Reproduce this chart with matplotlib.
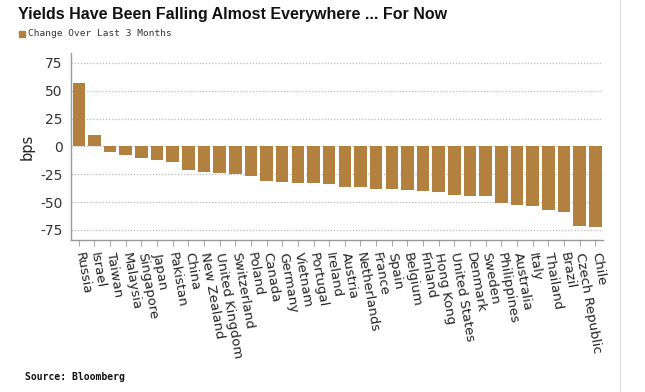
import matplotlib
matplotlib.use("Agg")
import matplotlib.pyplot as plt
import numpy as np

# -----------------------------
# Data (bps change over last 3 months)
# -----------------------------
countries = [
    "Russia", "Israel", "Taiwan", "Malaysia", "Singapore", "Japan", "Pakistan",
    "China", "New Zealand", "United Kingdom", "Switzerland", "Poland", "Canada",
    "Germany", "Vietnam", "Portugal", "Ireland", "Austria", "Netherlands",
    "France", "Spain", "Belgium", "Finland", "Hong Kong", "United States",
    "Denmark", "Sweden", "Philippines", "Australia", "Italy", "Thailand",
    "Brazil", "Czech Republic", "Chile",
]
change_bps = [
    57.4, 10.4, -4.8, -7.7, -10.7, -11.9, -14.3,
    -20.8, -22.6, -23.8, -24.7, -26.5, -31.0,
    -31.8, -32.7, -33.3, -33.5, -36.6, -36.6,
    -38.7, -38.7, -39.6, -39.8, -40.8, -43.5,
    -44.4, -44.6, -50.6, -52.7, -53.9, -56.8,
    -59.2, -71.4, -72.0,
]
y_ticks = [-75, -50, -25, 0, 25, 50, 75]

bar_color = "#B3813F"
plt.rcParams["axes.unicode_minus"] = False

# -----------------------------
# Figure
# -----------------------------
fig = plt.figure(figsize=(6.45, 3.92), dpi=100)
ax = fig.add_axes([0.110, 0.388, 0.825, 0.477])

x = np.arange(len(countries))
ax.bar(x, change_bps, width=0.8, color=bar_color, zorder=3)

ax.set_xlim(-0.5, len(countries) - 0.5)
ax.set_ylim(-84, 84)
ax.set_yticks(y_ticks)
ax.set_yticklabels([str(v) for v in y_ticks], fontsize=10, color="#333333")
ax.set_ylabel("bps", fontsize=10.5, color="#222222", labelpad=4)

ax.set_xticks(x)
ax.set_xticklabels(countries, rotation=-80, ha="left", va="center",
                   rotation_mode="anchor", fontsize=9.5, color="#222222")
ax.tick_params(axis="x", length=4, color="#aaaaaa", pad=5)
ax.tick_params(axis="y", length=0, pad=6)

ax.grid(axis="y", linestyle=(0, (1, 1.5)), color="#bbbbbb", linewidth=0.9, zorder=0)

for side in ["top", "right"]:
    ax.spines[side].set_visible(False)
for side in ["left", "bottom"]:
    ax.spines[side].set_color("#999999")
    ax.spines[side].set_linewidth(1)

# -----------------------------
# Title, legend, source
# -----------------------------
fig.text(18 / 645, 1 - 14 / 392, "Yields Have Been Falling Almost Everywhere ... For Now",
         fontsize=11.5, fontweight="bold", family="Liberation Sans",
         va="center", color="#111111")
fig.patches.append(plt.Rectangle((19 / 645, 1 - 37 / 392), 6 / 645, 6 / 392,
                                 transform=fig.transFigure, color=bar_color))
fig.text(28 / 645, 1 - 34 / 392, "Change Over Last 3 Months",
         fontsize=6.8, family="DejaVu Sans Mono", va="center", color="#333333")
fig.text(25 / 645, 1 - 377 / 392, "Source: Bloomberg",
         fontsize=7, family="DejaVu Sans Mono", fontweight="bold", va="center", color="#111111")

# faint frame line on the right
fig.add_artist(plt.Line2D([620 / 645, 620 / 645], [0, 1], transform=fig.transFigure,
                          color="#e3e3e3", linewidth=1))

plt.savefig("out.png", dpi=100)
